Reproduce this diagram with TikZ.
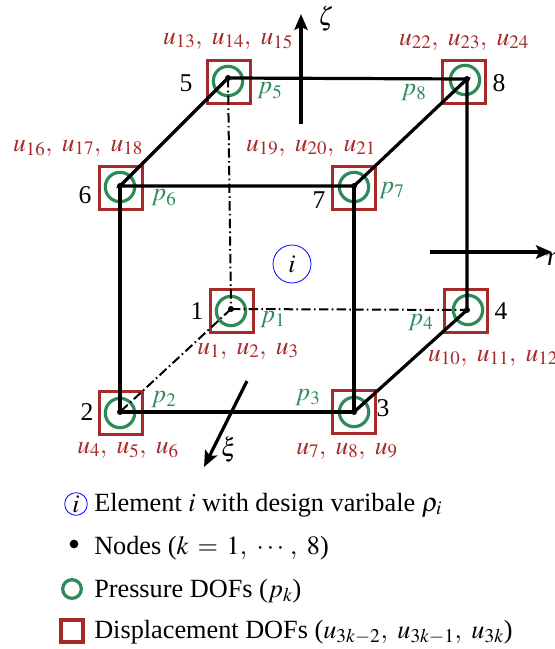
\documentclass[tikz,border=0pt]{standalone}
\usepackage{amsmath,amssymb}
\usepackage{mathptmx}
\usepackage[no-math]{fontspec}
\setmainfont{Liberation Serif}
\usepackage{tikz}
\usetikzlibrary{arrows.meta}
\definecolor{dofred}{HTML}{A52A2A}
\definecolor{dofgreen}{HTML}{2E8B57}
\newcommand{\ulabel}[3]{$u_{#1},\ u_{#2},\ u_{#3}$}

\begin{document}
\begin{tikzpicture}[x=0.75pt,y=-0.75pt, every node/.style={font=\fontsize{19.2}{22}\selectfont},
      sq/.style={draw=dofred,line width=2.5pt,minimum size=32.5pt,inner sep=0pt},
      prs/.style={draw=dofgreen,circle,line width=2.4pt,minimum size=22pt,inner sep=0pt},
      dot/.style={fill=black,circle,minimum size=4.5pt,inner sep=0pt},
      edge/.style={line width=2.4pt},
      hidden/.style={line width=1.5pt,dash pattern=on 7pt off 2.5pt on 1.2pt off 2.5pt},
      axis/.style={line width=2.4pt,-{Stealth[length=12pt,width=10pt,inset=2.5pt]}},
      ulab/.style={text=dofred},
      plab/.style={text=dofgreen},
      elem/.style={draw=blue,circle,line width=0.6pt,inner sep=0pt},
      legend/.style={anchor=base west,inner sep=0pt,font=\fontsize{19.7}{22}\selectfont}]
      \clip (0,0) rectangle (555,649);
      \useasboundingbox (0,0) rectangle (555,649);
      % DOF squares
      \node[sq] (s1) at (232,311) {};
      \node[sq] (s2) at (121,413) {};
      \node[sq] (s3) at (354,412) {};
      \node[sq] (s4) at (466,311) {};
      \node[sq] (s5) at (229,82) {};
      \node[sq] (s6) at (121,188) {};
      \node[sq] (s7) at (354,188) {};
      \node[sq] (s8) at (464,82) {};
      % pressure circles
      \node[prs] (c1) at (231,311) {};
      \node[prs] (c2) at (120,413) {};
      \node[prs] (c3) at (354,412) {};
      \node[prs] (c4) at (468,310) {};
      \node[prs] (c5) at (228,81) {};
      \node[prs] (c6) at (120,187) {};
      \node[prs] (c7) at (354,187) {};
      \node[prs] (c8) at (465,80) {};
      % nodes
      \node[dot] (n1) at (231,309) {};
      \node[dot] (n2) at (120,412) {};
      \node[dot] (n3) at (354,412) {};
      \node[dot] (n4) at (467,310) {};
      \node[dot] (n5) at (228,78) {};
      \node[dot] (n6) at (120,186) {};
      \node[dot] (n7) at (354,186) {};
      \node[dot] (n8) at (467,79) {};
      % edges
      \draw[edge] (n5.center)--(n8.center)--(n7.center)--(n6.center)--(n5.center);
      \draw[edge] (n6.center)--(n2.center)--(n3.center)--(n7.center);
      \draw[edge] (n3.center)--(n4.center)--(n8.center);
      \draw[hidden] (n5.center)--(n1.center);
      \draw[hidden] (n1.center)--(n4.center);
      \draw[hidden] (n1.center)--(n2.center);
      % axes
      \coordinate (z0) at (301,124);
      \coordinate (z1) at (301,14);
      \coordinate (e0) at (430,252);
      \coordinate (e1) at (552,252);
      \coordinate (x0) at (247,381);
      \coordinate (x1) at (204,467);
      \draw[axis] (z0)--(z1);
      \draw[axis] (e0)--(e1);
      \draw[axis] (x0)--(x1);
      \node (zeta) at (326,19) {$\zeta$};
      \node (eta) at (554,262) {$\eta$};
      \node (xi) at (229,450) {$\xi$};
      \node[elem,minimum size=28.5pt] (el) at (292,264) {$i$};
      % node numbers
      \node (k1) at (197,311) {1};
      \node (k2) at (87,412) {2};
      \node (k3) at (383,408) {3};
      \node (k4) at (501,311) {4};
      \node (k5) at (186,83) {5};
      \node (k6) at (85,195) {6};
      \node (k7) at (319,200) {7};
      \node (k8) at (499,83) {8};
      % pressure labels
      \node[plab] (p1) at (273,320) {$p_1$};
      \node[plab] (p2) at (164,400) {$p_2$};
      \node[plab] (p3) at (308,398) {$p_3$};
      \node[plab] (p4) at (421,323) {$p_4$};
      \node[plab] (p5) at (270,91) {$p_5$};
      \node[plab] (p6) at (164,198) {$p_6$};
      \node[plab] (p7) at (392,191) {$p_7$};
      \node[plab] (p8) at (414,93) {$p_8$};
      % displacement labels
      \node[ulab] (u1) at (248,351) {\ulabel{1}{2}{3}};
      \node[ulab] (u2) at (128,450) {\ulabel{4}{5}{6}};
      \node[ulab] (u3) at (347,451) {\ulabel{7}{8}{9}};
      \node[ulab] (u4) at (493,358) {\ulabel{10}{11}{12}};
      \node[ulab] (u5) at (228,41) {\ulabel{13}{14}{15}};
      \node[ulab] (u6) at (78,148) {\ulabel{16}{17}{18}};
      \node[ulab] (u7) at (311,148) {\ulabel{19}{20}{21}};
      \node[ulab] (u8) at (464,42) {\ulabel{22}{23}{24}};
      % legend
      \node[elem,minimum size=17pt] (lc) at (76,504) {$i$};
      \node[legend] (lt1) at (94,511) {Element $i$ with design varibale $\rho_i$};
      \node[dot,minimum size=6.5pt] (ld) at (74,544) {};
      \node[legend] (lt2) at (94,554) {Nodes ($k\,=\,1,\ \cdots,\ 8$)};
      \node[prs,minimum size=14pt] (lp) at (72,589) {};
      \node[legend] (lt3) at (94,597) {Pressure DOFs ($p_k$)};
      \node[sq,minimum size=16.5pt] (ls) at (72,631) {};
      \node[legend] (lt4) at (94,638) {Displacement DOFs ($u_{3k-2},\ u_{3k-1},\ u_{3k}$)};
    \end{tikzpicture}
\end{document}
